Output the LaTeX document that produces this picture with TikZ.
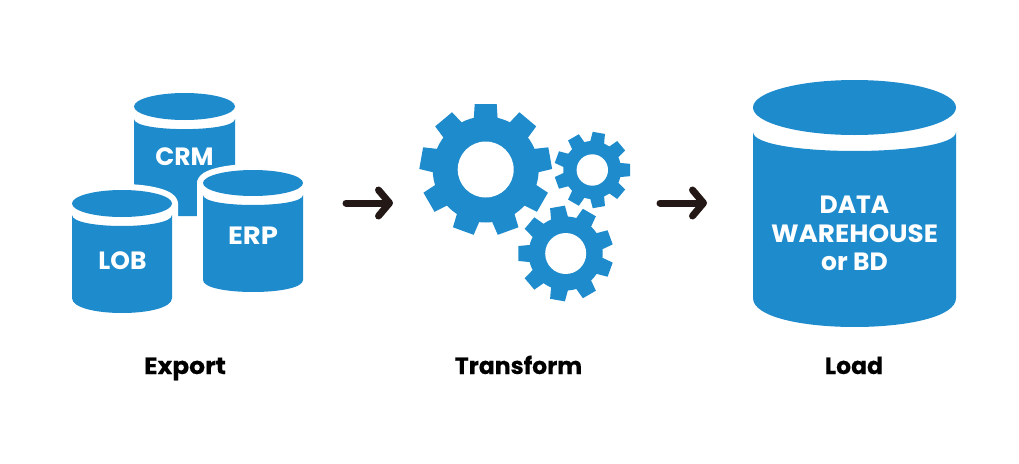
\documentclass[tikz,border=0pt]{standalone}
\usepackage{fontspec}
\setmainfont{Poppins}
\newfontfamily\capfont{Poppins}[UprightFont={* Bold},FakeBold=0.25]
\usetikzlibrary{arrows.meta}
\definecolor{cylblue}{RGB}{30,139,205}
\definecolor{arrowblack}{RGB}{35,24,21}
\tikzset{
  cylfill/.style={fill=cylblue,draw=none},
  halo/.style={fill=white,draw=white,line width=12pt,line join=round},
  cyllabel/.style={text=white,font=\bfseries\fontsize{25}{28.5}\selectfont,align=center,inner sep=0pt},
  caption/.style={text=black,font=\capfont\fontsize{23.5}{23.5}\selectfont,inner sep=0pt,anchor=base},
  flow/.style={arrowblack,line width=7pt,line cap=round,line join=round,-{Straight Barb[length=11pt,width=26pt,round]}}
}
\newcommand{\cylshape}[8]{
  \pgfmathsetmacro{\cx}{(#1+#2)/2}
  \pgfmathsetmacro{\rx}{(#2-#1)/2}
  \pgfmathsetmacro{\ry}{(#4-#3)/2}
  \pgfmathsetmacro{\cy}{(#3+#4)/2}
  \pgfmathsetmacro{\ka}{#5+1.333*#6}
  \pgfmathsetmacro{\kb}{#7+1.333*#8}
  \fill[cylfill] (\cx,\cy) ellipse [x radius=\rx, y radius=\ry];
  \fill[cylfill] (#1,#5) .. controls (#1,\ka) and (#2,\ka) .. (#2,#5) -- (#2,#7) .. controls (#2,\kb) and (#1,\kb) .. (#1,#7) -- cycle;
}
\newcommand{\cylhalo}[8]{
  \pgfmathsetmacro{\cx}{(#1+#2)/2}
  \pgfmathsetmacro{\rx}{(#2-#1)/2}
  \pgfmathsetmacro{\ry}{(#4-#3)/2}
  \pgfmathsetmacro{\cy}{(#3+#4)/2}
  \pgfmathsetmacro{\kb}{#7+1.333*#8}
  \path[halo] (\cx,\cy) ellipse [x radius=\rx, y radius=\ry];
  \path[halo] (#1,\cy) -- (#2,\cy) -- (#2,#7) .. controls (#2,\kb) and (#1,\kb) .. (#1,#7) -- cycle;
}
\newcommand{\gearshape}[8]{
  \fill[cylblue] (#1,#2) circle [radius=#3+0.5];
  \foreach \k in {0,...,8}{
    \begin{scope}[shift={(#1,#2)},rotate=#7+40*\k]
      \fill[cylblue] (#3-3,-#5) -- (#3,-#5) -- (#4,-#6) -- (#4,#6) -- (#3,#5) -- (#3-3,#5) -- cycle;
    \end{scope}
  }
  \fill[white] (#1,#2) circle [radius=#8];
}
\begin{document}
\begin{tikzpicture}[x=1pt,y=-1pt]
\useasboundingbox (0,0) rectangle (1019,463);
\fill[white] (0,0) rectangle (1019,463);
\fill[cylfill] (134,119) .. controls (134,132.5) and (235,132.5) .. (235,119) -- (235,216) -- (134,216) -- cycle;
\fill[cylfill] (184.5,106.5) ellipse [x radius=50.5, y radius=13.5];
\cylhalo{72}{172}{190}{217}{215}{11}{298}{15}
\cylshape{72}{172}{190}{217}{215}{11}{298}{15}
\cylhalo{203}{303}{170}{196}{195}{10}{280}{12}
\cylshape{203}{303}{170}{196}{195}{10}{280}{12}
\cylshape{753}{956}{80}{135}{132}{19}{298}{29}
\node[cyllabel] (crm) at (184.5,157) {CRM};
\node[cyllabel] (lob) at (122.5,261) {LOB};
\node[cyllabel] (erp) at (253,236) {\scalebox{1.1}[1]{ERP}};
\node[cyllabel] (dw) at (854.5,233.5) {DATA\\\scalebox{1.05}[1]{WAREHOUSE}\\or BD};
\gearshape{485.7}{169.5}{52.5}{65.5}{11.8}{11}{90}{28}
\gearshape{592.3}{170}{28.5}{37.7}{7}{6.2}{0}{15.7}
\gearshape{565.7}{253.5}{36.5}{47.3}{8.5}{7.5}{20}{20.5}
\coordinate (a1s) at (346,203);
\coordinate (a1e) at (393,203);
\coordinate (a2s) at (660,203);
\coordinate (a2e) at (707,203);
\draw[flow] (a1s) -- (a1e);
\draw[flow] (a2s) -- (a2e);
\node[caption] (export) at (185,374) {\scalebox{1.06}[1]{Export}};
\node[caption] (transform) at (518.5,374) {Transform};
\node[caption] (load) at (854,374) {Load};
\end{tikzpicture}
\end{document}
